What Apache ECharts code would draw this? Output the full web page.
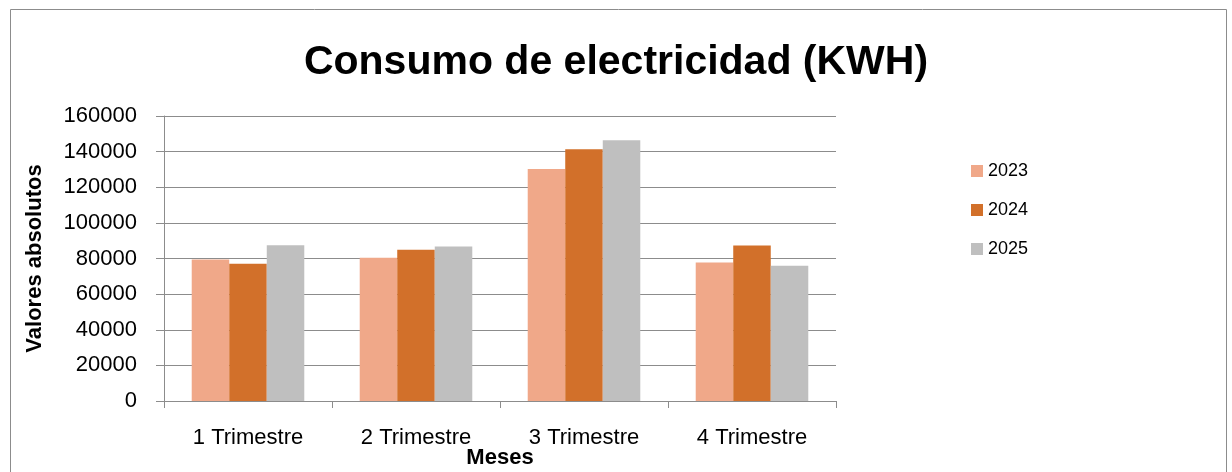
<!DOCTYPE html>
<html>
<head>
<meta charset="utf-8">
<script src="https://cdn.jsdelivr.net/npm/echarts@6/dist/echarts.min.js"></script>
<style>
html,body{margin:0;padding:0;background:#fff;}
#c{width:1232px;height:472px;}
</style>
</head>
<body>
<div id="c"></div>
<script>
const categories = ['1 Trimestre', '2 Trimestre', '3 Trimestre', '4 Trimestre'];
const seriesNames = ['2023', '2024', '2025'];
const values2023 = [79500, 80400, 130200, 77800];
const values2024 = [77000, 84900, 141400, 87300];
const values2025 = [87500, 86700, 146400, 75900];
const colors = ['#F0A889', '#D2702A', '#BFBFBF'];

const chart = echarts.init(document.getElementById('c'));
const font = 'Liberation Sans';
const seriesData = [values2023, values2024, values2025];
chart.setOption({
  animation: false,
  backgroundColor: '#fff',
  graphic: [{
    type: 'rect', left: 8, top: 7,
    shape: {width: 1216, height: 480},
    style: {fill: 'none', stroke: '#8c8c8c', lineWidth: 1}
  }],
  title: {
    text: 'Consumo de electricidad (KWH)',
    left: 'center', top: 37,
    textStyle: {fontFamily: font, fontWeight: 'bold', fontSize: 41, color: '#000'}
  },
  legend: {
    orient: 'vertical', left: 966, top: 157, itemGap: 21,
    itemWidth: 12, itemHeight: 12, icon: 'rect',
    textStyle: {fontFamily: font, fontSize: 18, color: '#000'},
    data: seriesNames
  },
  grid: {left: 164, right: 396, top: 116, bottom: 71, containLabel: false, outerBoundsMode: 'none'},
  xAxis: {
    type: 'category', data: categories,
    name: 'Meses', nameLocation: 'middle', nameGap: 46, nameMoveOverlap: false,
    nameTextStyle: {fontFamily: font, fontWeight: 'bold', fontSize: 22, color: '#000'},
    axisLine: {lineStyle: {color: '#8c8c8c'}},
    axisTick: {show: true, length: 7, lineStyle: {color: '#8c8c8c'}},
    axisLabel: {fontFamily: font, fontSize: 22, color: '#000', margin: 26}
  },
  yAxis: {
    type: 'value', min: 0, max: 160000, interval: 20000,
    name: 'Valores absolutos', nameLocation: 'middle', nameGap: 118, nameRotate: 90,
    nameMoveOverlap: false,
    nameTextStyle: {fontFamily: font, fontWeight: 'bold', fontSize: 22, color: '#000'},
    axisLine: {show: true, lineStyle: {color: '#8c8c8c'}},
    axisTick: {show: true, length: 8, lineStyle: {color: '#8c8c8c'}},
    axisLabel: {fontFamily: font, fontSize: 22, color: '#000', margin: 27,
      formatter: v => String(v)},
    splitLine: {lineStyle: {color: '#8c8c8c'}}
  },
  series: seriesNames.map((n, i) => ({
    name: n, type: 'bar', data: seriesData[i],
    barGap: '0%', barCategoryGap: '33%',
    itemStyle: {color: colors[i]}
  }))
});
</script>
</body>
</html>
